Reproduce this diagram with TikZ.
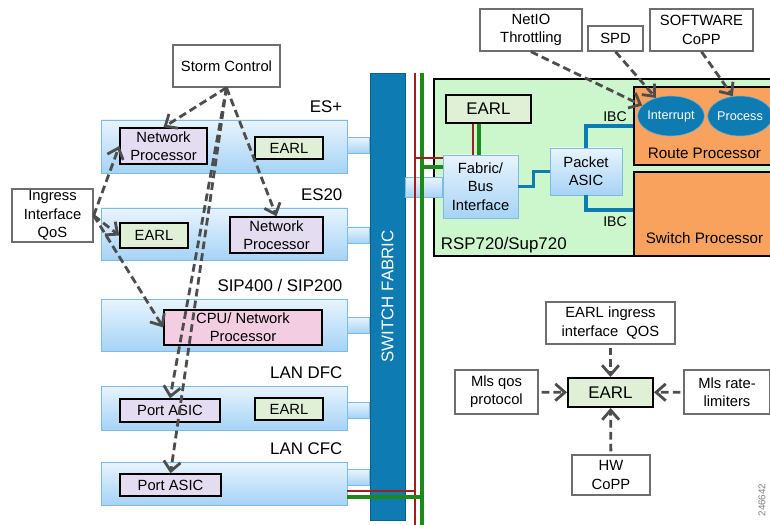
\documentclass[tikz,border=0pt]{standalone}
\usepackage{fontspec}
\setmainfont{Liberation Sans}
\usetikzlibrary{positioning,calc,arrows.meta,shapes.geometric}
\definecolor{fabblue}{HTML}{0E7BB3}
\definecolor{cardtop}{HTML}{E8F4FD}
\definecolor{cardbot}{HTML}{A6D3F6}
\definecolor{cardedge}{HTML}{7DBBE3}
\definecolor{npfill}{HTML}{E4DCF1}
\definecolor{cpufill}{HTML}{F3CDE2}
\definecolor{earlfill}{HTML}{DFF0D6}
\definecolor{rspfill}{HTML}{CCF6CC}
\definecolor{rpfill}{HTML}{F9A25E}
\definecolor{busred}{HTML}{A0201C}
\definecolor{busgreen}{HTML}{1B8A1B}
\definecolor{arrowgray}{HTML}{4D4D4D}
\definecolor{boxedge}{HTML}{6E6E6E}
\tikzset{sz/.style 2 args={minimum width=#1*0.025cm,minimum height=#2*0.025cm},card/.style={draw=cardedge,top color=cardtop,bottom color=cardbot,inner sep=0},port/.style={draw=cardedge,top color=cardtop,bottom color=cardbot},chip/.style={draw=black,line width=1pt,inner sep=0,align=center,font=\fontsize{10.5}{13}\selectfont},note/.style={draw=boxedge,line width=1pt,fill=white,inner sep=0,align=center,font=\fontsize{10.5}{13}\selectfont},cardlabel/.style={text depth=0pt,font=\fontsize{12}{14}\selectfont},redbus/.style={draw=busred,line width=0.8pt},greenbus/.style={draw=busgreen,line width=2.8pt},ibc/.style={draw=fabblue,line width=2.6pt},ctl/.style={draw=arrowgray,line width=2pt,dash pattern=on 5.5pt off 3pt,-{Straight Barb[length=2.4mm,width=4.2mm]}}}

\begin{document}
\begin{tikzpicture}[x=0.025cm,y=-0.025cm]
\useasboundingbox (0,0) rectangle (770,525);
% line cards
\node[card,sz={246}{53}] (es) at (224,146.5) {};
\node[card,sz={246}{52}] (es20) at (224,234) {};
\node[card,sz={246}{52}] (sip) at (224,325) {};
\node[card,sz={246}{44}] (dfc) at (224,408) {};
\node[card,sz={246}{43}] (cfc) at (224,483.5) {};
\node[cardlabel,above left=1.5pt and 0pt of es.north east] (eslab) {ES+};
\node[cardlabel,above left=1.5pt and 0pt of es20.north east] (es20lab) {ES20};
\node[cardlabel,above left=1.5pt and 0pt of sip.north east] (siplab) {SIP400 / SIP200};
\node[cardlabel,above left=1.5pt and 0pt of dfc.north east] (dfclab) {LAN DFC};
\node[cardlabel,above left=1.5pt and 0pt of cfc.north east] (cfclab) {LAN CFC};
\node[chip,fill=npfill,sz={87}{36}] (esnp) at (163.5,146) {Network\\Processor};
\node[chip,fill=earlfill,sz={68}{22}] (esearl) at (289,148) {EARL};
\node[chip,fill=earlfill,sz={68}{25}] (es20earl) at (154,235.5) {EARL};
\node[chip,fill=npfill,sz={93}{36}] (es20np) at (276.5,235) {Network\\Processor};
\node[chip,fill=cpufill,sz={158}{35}] (cpu) at (243,327.5) {CPU/ Network\\Processor};
\node[chip,fill=npfill,sz={100}{23}] (dfcasic) at (170,410.5) {Port ASIC};
\node[chip,fill=earlfill,sz={68}{22}] (dfcearl) at (289,409) {EARL};
\node[chip,fill=npfill,sz={101}{22}] (cfcasic) at (170.5,485) {Port ASIC};
% switch fabric
\node[fill=fabblue,draw=fabblue!80!black,sz={35}{447},inner sep=0] (fab) at (387.5,296.5) {};
\foreach \c/\dy in {es/-1,es20/1,sip/0,dfc/2,cfc/-6}
  \path[port] ($(\c.east)+(0,\dy-8)$) rectangle ($(\c.east -| fab.west)+(0,\dy+8)$);
\node[rotate=90,text=white,font=\fontsize{12}{14}\selectfont] (fablab) at (fab) {SWITCH FABRIC};
% RSP720/Sup720
\node[draw=black,line width=1.2pt,fill=rspfill,sz={345}{177},inner sep=0] (rsp) at (606.5,167.5) {};
\node[cardlabel,above right=1.5pt and 2pt of rsp.south west] (rsplab) {RSP720/Sup720};
\node[chip,fill=earlfill,sz={85}{28},font=\fontsize{12}{14}\selectfont] (rspearl) at (488.5,109) {EARL};
\node[chip,top color=cardtop,bottom color=cardbot,draw=cardedge,line width=0.6pt,sz={75}{63}] (fbi) at (480.5,186.5) {Fabric/\\Bus\\Interface};
\node[chip,top color=cardtop,bottom color=cardbot,draw=cardedge,line width=0.6pt,sz={72}{47}] (pasic) at (586,171.5) {Packet\\ASIC};
\path[port] ($(fab.east |- fbi.west)+(0,-9)$) rectangle ($(fbi.west)+(0,11)$);
% buses
\coordinate (rtop) at (415,73);
\coordinate (gtop) at (422,73);
\coordinate (rb) at (415,158);
\coordinate (gb) at (422,167);
\draw[redbus] (rtop) -- ++(0,460);
\draw[greenbus] (gtop) -- ++(0,460);
\draw[redbus] ($(cfc.east)+(0,7.5)$) -- ++(68,0);
\draw[greenbus] ($(cfc.east)+(0,13.5)$) -- ++(75,0);
\draw[redbus] (rb) -- (rb -| fbi.west);
\draw[greenbus] (gb) -- (gb -| fbi.west);
\draw[redbus] ($(rspearl.south)+(-15.5,0)$) coordinate (r1) -- (r1 |- fbi.north);
\draw[greenbus] ($(rspearl.south)+(-9.5,0)$) coordinate (g1) -- (g1 |- fbi.north);
% processors
\node[draw=black,line width=1.2pt,fill=rpfill,sz={141}{78},inner sep=0] (rp) at (704.5,126) {};
\node[draw=black,line width=1.2pt,fill=rpfill,sz={141}{84},inner sep=0] (sp) at (704.5,214) {};
\node[font=\fontsize{10.8}{12}\selectfont] (rplab) at ($(rp.south)+(0,-12)$) {Route Processor};
\node[font=\fontsize{10.8}{12}\selectfont] (splab) at ($(sp.south)+(0,-19)$) {Switch Processor};
\node[ellipse,fill=fabblue,draw=fabblue!60,inner sep=0,sz={60}{40},text=white,font=\fontsize{9}{11}\selectfont] (intr) at (671,116) {Interrupt};
\node[ellipse,fill=fabblue,draw=fabblue!60,inner sep=0,sz={60}{40},text=white,font=\fontsize{9}{11}\selectfont] (proc) at (740,116) {Process};
\node[font=\fontsize{10}{12}\selectfont] (ibc1) at (615,117) {IBC};
\node[font=\fontsize{10}{12}\selectfont] (ibc2) at (615,222) {IBC};
\draw[ibc] (fbi.east) -- ++(15,0) |- (pasic.west);
\draw[ibc] (pasic.north) |- (rp.west);
\draw[ibc] (pasic.south) |- ($(sp.west)+(0,-4)$);
% control features
\node[note,sz={107}{42}] (storm) at (226.5,66) {Storm Control};
\node[note,sz={81}{53}] (ingress) at (52.5,215.5) {Ingress\\Interface\\QoS};
\node[note,sz={102}{42}] (netio) at (531,30) {NetIO\\Throttling};
\node[note,sz={55}{25}] (spd) at (615.5,38.5) {SPD};
\node[note,sz={103}{42}] (swcopp) at (701.5,30) {SOFTWARE\\CoPP};
\foreach \x in {esnp,es20np,dfcasic,cfcasic}\draw[ctl] (storm.south) -- (\x.north);
\foreach \x in {esnp,es20earl,cpu}\draw[ctl] (ingress.east) -- (\x.west);
\draw[ctl] (netio.south) -- (intr.160);
\draw[ctl] (spd.south) -- (intr.130);
\draw[ctl] (swcopp.south) -- (proc.110);
% EARL inputs
\node[chip,fill=earlfill,line width=1.4pt,sz={85}{29},font=\fontsize{12}{14}\selectfont] (earl2) at (610.5,392.5) {EARL};
\node[note,sz={129}{42}] (eiq) at (610.5,323) {EARL ingress\\interface\ \ QOS};
\node[note,sz={83}{44}] (mqp) at (496.5,392) {Mls qos\\protocol};
\node[note,sz={86}{44}] (mrl) at (727,392) {Mls rate-\\limiters};
\node[note,sz={78}{40}] (hw) at (611,475) {HW\\CoPP};
\foreach \x in {eiq,mqp,mrl,hw}\draw[ctl,shorten <=2pt] (\x) -- (earl2);
\node[rotate=90,text=gray,font=\fontsize{7}{8}\selectfont] (figid) at (762,500) {246642};
\end{tikzpicture}
\end{document}
